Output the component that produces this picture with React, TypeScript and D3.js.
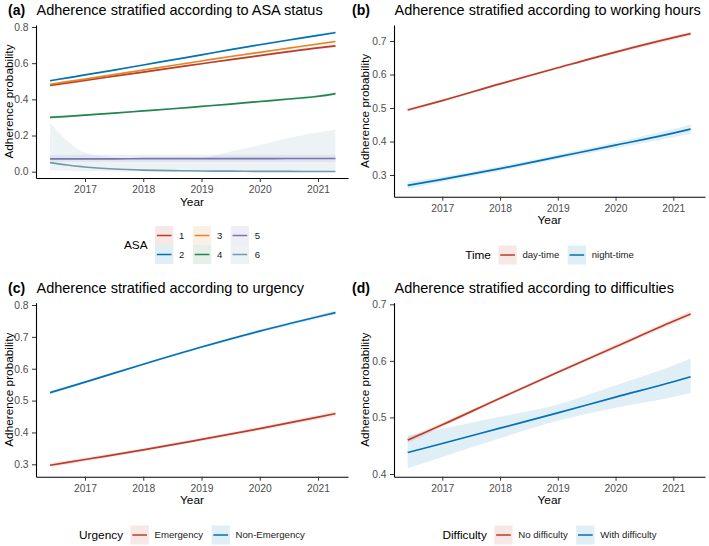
import { useEffect, useRef } from 'react';
import * as d3 from 'd3';

// Shared x values (model predictions over calendar time)
const yearsA = [2016.4, 2016.7, 2017, 2017.5, 2018, 2018.5, 2019, 2019.5, 2020, 2020.5, 2021, 2021.3];
const years = [2016.4, 2017, 2018, 2019, 2020, 2021, 2021.3];
const yearTicks = [2017, 2018, 2019, 2020, 2021];

// (a) ASA status
const asaLevels = ['1', '2', '3', '4', '5', '6'];
const asa1 = [0.477, 0.491, 0.505, 0.528, 0.551, 0.574, 0.597, 0.62, 0.642, 0.664, 0.685, 0.696];
const asa1Lo = [0.469, 0.484, 0.499, 0.523, 0.546, 0.570, 0.593, 0.615, 0.636, 0.657, 0.677, 0.687];
const asa1Hi = [0.485, 0.498, 0.511, 0.533, 0.556, 0.578, 0.601, 0.625, 0.648, 0.671, 0.693, 0.705];
const asa2 = [0.503, 0.519, 0.535, 0.562, 0.59, 0.618, 0.646, 0.675, 0.702, 0.728, 0.754, 0.769];
const asa2Lo = [0.497, 0.514, 0.531, 0.559, 0.587, 0.615, 0.643, 0.671, 0.697, 0.723, 0.748, 0.762];
const asa2Hi = [0.509, 0.524, 0.539, 0.565, 0.593, 0.621, 0.649, 0.679, 0.707, 0.733, 0.760, 0.776];
const asa3 = [0.483, 0.498, 0.512, 0.537, 0.562, 0.587, 0.612, 0.637, 0.66, 0.683, 0.706, 0.72];
const asa3Lo = [0.476, 0.492, 0.507, 0.533, 0.558, 0.583, 0.608, 0.632, 0.655, 0.677, 0.699, 0.712];
const asa3Hi = [0.490, 0.504, 0.517, 0.541, 0.566, 0.591, 0.616, 0.642, 0.665, 0.689, 0.713, 0.728];
const asa4 = [0.300, 0.306, 0.313, 0.324, 0.336, 0.348, 0.361, 0.374, 0.388, 0.402, 0.417, 0.432];
const asa4Lo = [0.293, 0.300, 0.308, 0.320, 0.332, 0.344, 0.357, 0.369, 0.382, 0.395, 0.409, 0.423];
const asa4Hi = [0.307, 0.312, 0.318, 0.328, 0.340, 0.352, 0.365, 0.379, 0.394, 0.409, 0.425, 0.441];
const asa5 = [0.071, 0.071, 0.071, 0.071, 0.072, 0.072, 0.072, 0.072, 0.072, 0.073, 0.073, 0.073];
const asa5Lo = [0.055, 0.055, 0.055, 0.055, 0.055, 0.055, 0.055, 0.055, 0.055, 0.055, 0.055, 0.055];
const asa5Hi = [0.093, 0.093, 0.094, 0.094, 0.094, 0.094, 0.094, 0.094, 0.094, 0.094, 0.094, 0.094];
const asa6 = [0.05, 0.037, 0.026, 0.015, 0.009, 0.006, 0.004, 0.003, 0.002, 0.0015, 0.001, 0.001];
const asa6Lo = [0.008, 0.005, 0.002, 0.001, 0, 0, 0, 0, 0, 0, 0, 0];
const asa6Hi = [0.27, 0.17, 0.105, 0.078, 0.068, 0.066, 0.075, 0.112, 0.147, 0.186, 0.218, 0.234];

// (b) working hours
const timeLevels = ['day-time', 'night-time'];
const dayTime = [0.494, 0.522, 0.572, 0.620, 0.667, 0.710, 0.722];
const dayTimeLo = [0.489, 0.518, 0.568, 0.616, 0.662, 0.704, 0.716];
const dayTimeHi = [0.499, 0.526, 0.576, 0.624, 0.672, 0.716, 0.728];
const nightTime = [0.269, 0.287, 0.319, 0.354, 0.389, 0.425, 0.437];
const nightTimeLo = [0.258, 0.279, 0.312, 0.347, 0.380, 0.413, 0.423];
const nightTimeHi = [0.280, 0.295, 0.326, 0.361, 0.398, 0.437, 0.451];

// (c) urgency
const urgencyLevels = ['Emergency', 'Non-Emergency'];
const emergency = [0.297, 0.315, 0.345, 0.378, 0.412, 0.448, 0.459];
const emergencyLo = [0.290, 0.309, 0.340, 0.373, 0.406, 0.441, 0.451];
const emergencyHi = [0.304, 0.321, 0.350, 0.383, 0.418, 0.455, 0.467];
const nonEmergency = [0.525, 0.558, 0.614, 0.668, 0.718, 0.763, 0.776];
const nonEmergencyLo = [0.520, 0.554, 0.610, 0.664, 0.713, 0.757, 0.770];
const nonEmergencyHi = [0.530, 0.562, 0.618, 0.672, 0.723, 0.769, 0.782];

// (d) difficulties
const difficultyLevels = ['No difficulty', 'With difficulty'];
const noDifficulty = [0.460, 0.487, 0.534, 0.580, 0.625, 0.670, 0.683];
const noDifficultyLo = [0.455, 0.483, 0.531, 0.577, 0.621, 0.665, 0.677];
const noDifficultyHi = [0.465, 0.491, 0.537, 0.583, 0.629, 0.675, 0.689];
const withDifficulty = [0.438, 0.454, 0.481, 0.508, 0.536, 0.563, 0.572];
const withDifficultyLo = [0.410, 0.430, 0.463, 0.494, 0.517, 0.536, 0.543];
const withDifficultyHi = [0.468, 0.480, 0.501, 0.523, 0.557, 0.592, 0.604];

const ticksA = [0, 0.2, 0.4, 0.6, 0.8];
const ticksB = [0.3, 0.4, 0.5, 0.6, 0.7];
const ticksC = [0.3, 0.4, 0.5, 0.6, 0.7, 0.8];
const ticksD = [0.4, 0.5, 0.6, 0.7];

const nejm = ['#BC3C29', '#0072B5', '#E18727', '#20854E', '#7876B1', '#6F99AD'];
const FONT = '"Liberation Sans", Arial, Helvetica, sans-serif';

interface Series { name: string; color: string; x: number[]; v: number[]; lo: number[]; hi: number[] }
interface Panel {
  tag: string; tagX: number; title: string;
  left: number; right: number; top: number; bottom: number;
  xAt2017: number; xAt2021: number;
  yVals: [number, number]; yPx: [number, number];
  yTicks: number[]; ylabX: number;
  series: Series[];
  legendTitle: string; legendRows: number; legendCy: number;
}

const panels: Panel[] = [
  {
    tag: '(a)', tagX: 8, title: 'Adherence stratified according to ASA status',
    left: 36, right: 348, top: 25, bottom: 178, xAt2017: 85, xAt2021: 318,
    yVals: [0, 0.8], yPx: [171.7, 27], yTicks: ticksA, ylabX: 12.5,
    series: [
      { name: asaLevels[0], color: nejm[0], x: yearsA, v: asa1, lo: asa1Lo, hi: asa1Hi },
      { name: asaLevels[1], color: nejm[1], x: yearsA, v: asa2, lo: asa2Lo, hi: asa2Hi },
      { name: asaLevels[2], color: nejm[2], x: yearsA, v: asa3, lo: asa3Lo, hi: asa3Hi },
      { name: asaLevels[3], color: nejm[3], x: yearsA, v: asa4, lo: asa4Lo, hi: asa4Hi },
      { name: asaLevels[4], color: nejm[4], x: yearsA, v: asa5, lo: asa5Lo, hi: asa5Hi },
      { name: asaLevels[5], color: nejm[5], x: yearsA, v: asa6, lo: asa6Lo, hi: asa6Hi },
    ],
    legendTitle: 'ASA', legendRows: 2, legendCy: 245,
  },
  {
    tag: '(b)', tagX: 352, title: 'Adherence stratified according to working hours',
    left: 394, right: 705, top: 25, bottom: 196.7, xAt2017: 442.3, xAt2021: 673.3,
    yVals: [0.3, 0.7], yPx: [175, 41], yTicks: ticksB, ylabX: 368.5,
    series: [
      { name: timeLevels[0], color: nejm[0], x: years, v: dayTime, lo: dayTimeLo, hi: dayTimeHi },
      { name: timeLevels[1], color: nejm[1], x: years, v: nightTime, lo: nightTimeLo, hi: nightTimeHi },
    ],
    legendTitle: 'Time', legendRows: 1, legendCy: 255,
  },
  {
    tag: '(c)', tagX: 8, title: 'Adherence stratified according to urgency',
    left: 36, right: 348, top: 302.7, bottom: 476.7, xAt2017: 85, xAt2021: 318,
    yVals: [0.3, 0.8], yPx: [464.3, 305], yTicks: ticksC, ylabX: 12.5,
    series: [
      { name: urgencyLevels[0], color: nejm[0], x: years, v: emergency, lo: emergencyLo, hi: emergencyHi },
      { name: urgencyLevels[1], color: nejm[1], x: years, v: nonEmergency, lo: nonEmergencyLo, hi: nonEmergencyHi },
    ],
    legendTitle: 'Urgency', legendRows: 1, legendCy: 535,
  },
  {
    tag: '(d)', tagX: 352, title: 'Adherence stratified according to difficulties',
    left: 394, right: 705, top: 302.7, bottom: 476.7, xAt2017: 442.3, xAt2021: 673.3,
    yVals: [0.4, 0.7], yPx: [474, 304.3], yTicks: ticksD, ylabX: 368.5,
    series: [
      { name: difficultyLevels[0], color: nejm[0], x: years, v: noDifficulty, lo: noDifficultyLo, hi: noDifficultyHi },
      { name: difficultyLevels[1], color: nejm[1], x: years, v: withDifficulty, lo: withDifficultyLo, hi: withDifficultyHi },
    ],
    legendTitle: 'Difficulty', legendRows: 1, legendCy: 535,
  },
];

const RIBBON_ALPHA = 0.12;
const KEY_W = 18.3;
const KEY_H = 19;

function drawPanel(svg: d3.Selection<SVGSVGElement, unknown, null, undefined>, p: Panel) {
  const g = svg.append('g');

  // scales: calibrated on two known ticks, then stretched to the panel edges
  const xs0 = d3.scaleLinear().domain([2017, 2021]).range([p.xAt2017, p.xAt2021]);
  const x = d3.scaleLinear().domain([xs0.invert(p.left), xs0.invert(p.right)]).range([p.left, p.right]);
  const ys0 = d3.scaleLinear().domain(p.yVals).range(p.yPx);
  const y = d3.scaleLinear().domain([ys0.invert(p.bottom), ys0.invert(p.top)]).range([p.bottom, p.top]);

  // ribbons first, then lines (ggplot layer order)
  p.series.forEach(s => {
    const idx = d3.range(s.x.length);
    const area = d3.area<number>()
      .x(i => x(s.x[i]))
      .y0(i => y(s.lo[i]))
      .y1(i => y(s.hi[i]))
      .curve(d3.curveMonotoneX);
    g.append('path').attr('d', area(idx)).attr('fill', s.color).attr('fill-opacity', RIBBON_ALPHA);
  });
  p.series.forEach(s => {
    const idx = d3.range(s.x.length);
    const line = d3.line<number>()
      .x(i => x(s.x[i]))
      .y(i => y(s.v[i]))
      .curve(d3.curveMonotoneX);
    g.append('path').attr('d', line(idx)).attr('fill', 'none')
      .attr('stroke', s.color).attr('stroke-width', 1.7);
  });

  // axes
  const xAxis = g.append('g')
    .attr('transform', `translate(0,${p.bottom})`)
    .call(d3.axisBottom(x).tickValues(yearTicks).tickFormat(d3.format('d')).tickSize(4).tickSizeOuter(0).tickPadding(4));
  const yAxis = g.append('g')
    .attr('transform', `translate(${p.left},0)`)
    .call(d3.axisLeft(y).tickValues(p.yTicks).tickFormat(d3.format('.1f')).tickSize(4).tickSizeOuter(0).tickPadding(3.5));
  [xAxis, yAxis].forEach(ax => {
    ax.attr('font-family', FONT).attr('font-size', 10.3);
    ax.select('.domain').attr('stroke', '#000').attr('stroke-width', 1.1);
    ax.selectAll('.tick line').attr('stroke', '#333').attr('stroke-width', 1);
    ax.selectAll('.tick text').attr('fill', '#4D4D4D');
  });

  // axis titles
  g.append('text')
    .attr('x', (p.left + p.right) / 2).attr('y', p.bottom + 27.5)
    .attr('text-anchor', 'middle').attr('font-family', FONT).attr('font-size', 11.8)
    .text('Year');
  g.append('text')
    .attr('transform', `translate(${p.ylabX},${(p.top + p.bottom) / 2}) rotate(-90)`)
    .attr('text-anchor', 'middle').attr('font-family', FONT).attr('font-size', 11.8)
    .text('Adherence probability');

  // tag + title
  const titleY = p.top - 10;
  g.append('text')
    .attr('x', p.tagX).attr('y', titleY)
    .attr('font-family', FONT).attr('font-size', 14).attr('font-weight', 'bold')
    .text(p.tag);
  g.append('text')
    .attr('x', p.left + 0.5).attr('y', titleY)
    .attr('font-family', FONT).attr('font-size', 14.5)
    .text(p.title);

  drawLegend(svg, p);
}

function drawLegend(svg: d3.Selection<SVGSVGElement, unknown, null, undefined>, p: Panel) {
  const lg = svg.append('g').attr('font-family', FONT);
  const nrow = p.legendRows;
  const n = p.series.length;
  const ncol = Math.ceil(n / nrow);
  const blockH = nrow * KEY_H;

  const title = lg.append('text').attr('x', 0).attr('y', blockH / 2 + 4.2)
    .attr('font-size', 11.8).text(p.legendTitle);
  const titleW = (title.node() as SVGTextElement).getComputedTextLength();

  let cx = titleW + 7.5;
  for (let c = 0; c < ncol; c++) {
    let maxW = 0;
    for (let r = 0; r < nrow; r++) {
      const i = c * nrow + r;
      if (i >= n) break;
      const s = p.series[i];
      const ky = r * KEY_H;
      lg.append('rect').attr('x', cx).attr('y', ky).attr('width', KEY_W).attr('height', KEY_H)
        .attr('fill', s.color).attr('fill-opacity', RIBBON_ALPHA);
      lg.append('line').attr('x1', cx + 1.8).attr('x2', cx + KEY_W - 1.8)
        .attr('y1', ky + KEY_H / 2).attr('y2', ky + KEY_H / 2)
        .attr('stroke', s.color).attr('stroke-width', 1.5);
      const t = lg.append('text').attr('x', cx + KEY_W + 5.7).attr('y', ky + KEY_H / 2 + 3.4)
        .attr('font-size', 9.6).attr('fill', '#1a1a1a').text(s.name);
      maxW = Math.max(maxW, (t.node() as SVGTextElement).getComputedTextLength());
    }
    cx += KEY_W + 5.7 + maxW + 8.5;
  }
  const totalW = cx - 8.5;
  const centerX = (p.left + p.right) / 2;
  lg.attr('transform', `translate(${centerX - totalW / 2},${p.legendCy - blockH / 2})`);
}

export default function App(): JSX.Element {
  const svgRef = useRef<SVGSVGElement>(null);

  useEffect(() => {
    if (!svgRef.current) return;
    const svg = d3.select(svgRef.current);
    svg.selectAll('*').remove();
    panels.forEach(p => drawPanel(svg, p));
  }, []);

  return (
    <svg
      ref={svgRef}
      width={709}
      height={546}
      style={{ position: 'absolute', left: 0, top: 0, background: '#fff' }}
    />
  );
}
